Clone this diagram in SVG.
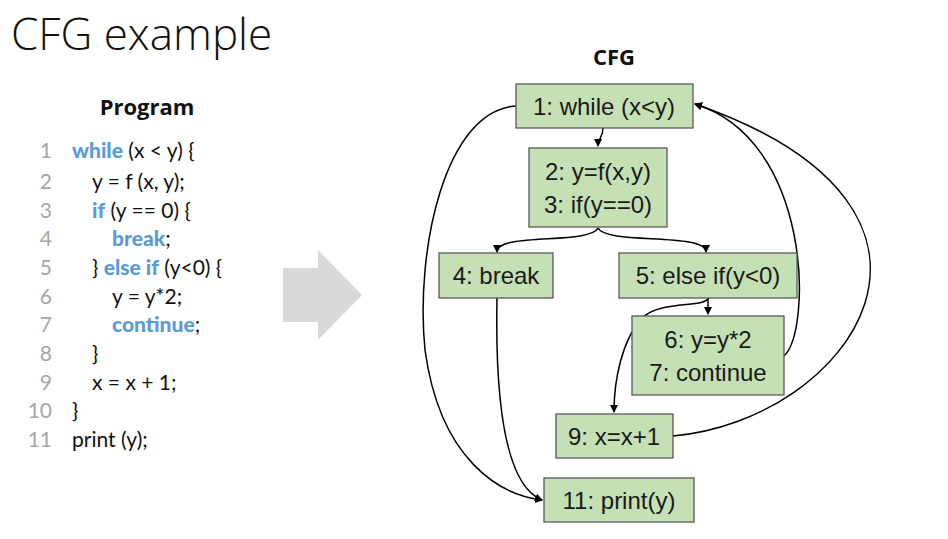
<svg xmlns="http://www.w3.org/2000/svg" width="948" height="539" viewBox="0 0 948 539">
<style>
.n rect{fill:#c5e0b4;stroke:#595959;stroke-width:1.3}
.n text{font-family:"Liberation Sans",Arial,sans-serif;font-size:24px;fill:#1a1a1a;text-anchor:middle}
.e path{fill:none;stroke:#000;stroke-width:1.5;marker-end:url(#a)}
.c{font-family:Lato,"Liberation Sans",sans-serif;font-size:21px;fill:#111}
.k{fill:#5b9bd5;font-weight:900}
.ln{font-family:Lato,"Liberation Sans",sans-serif;font-size:21px;fill:#a6a6a6;text-anchor:end}
</style>
<defs><marker id="a" markerWidth="8" markerHeight="8" refX="7" refY="4" orient="auto" markerUnits="userSpaceOnUse"><path d="M0,0 L8,4 L0,8 Z" fill="#000"/></marker></defs>
<rect width="948" height="539" fill="#fff"/>
<text x="11" y="50" font-family="'Open Sans','Liberation Sans',sans-serif" font-weight="300" font-size="44" fill="#111">CFG example</text>
<text x="147" y="115" text-anchor="middle" font-family="'Open Sans','Liberation Sans',sans-serif" font-weight="700" font-size="22" fill="#111">Program</text>
<text x="614" y="65" text-anchor="middle" font-family="'Open Sans','Liberation Sans',sans-serif" font-weight="700" font-size="22" fill="#111">CFG</text>
<g>
<text class="ln" x="52" y="158">1</text><text class="ln" x="52" y="189">2</text><text class="ln" x="52" y="218">3</text><text class="ln" x="52" y="246">4</text><text class="ln" x="52" y="275">5</text><text class="ln" x="52" y="304">6</text><text class="ln" x="52" y="332">7</text><text class="ln" x="52" y="361">8</text><text class="ln" x="52" y="390">9</text><text class="ln" x="52" y="418">10</text><text class="ln" x="52" y="447">11</text>
<text class="c" x="72" y="158"><tspan class="k">while</tspan> (x &lt; y) {</text>
<text class="c" x="92" y="189">y = f (x, y);</text>
<text class="c" x="92" y="218"><tspan class="k">if</tspan> (y == 0) {</text>
<text class="c" x="112" y="246"><tspan class="k">break</tspan>;</text>
<text class="c" x="92" y="275">} <tspan class="k">else if</tspan> (y&lt;0) {</text>
<text class="c" x="112" y="304">y = y*2;</text>
<text class="c" x="112" y="332"><tspan class="k">continue</tspan>;</text>
<text class="c" x="92" y="361">}</text>
<text class="c" x="92" y="390">x = x + 1;</text>
<text class="c" x="72" y="418">}</text>
<text class="c" x="72" y="447">print (y);</text>
</g>
<polygon points="283,268 318,268 318,250 362,295 318,340 318,322 283,322" fill="#d9d9d9"/>
<g class="e">
<path d="M603,128 C603,138 598,138 598,146"/>
<path d="M598,228 C590,245 497,232 497,252"/>
<path d="M598,228 C606,245 706,232 706,252"/>
<path d="M708,298 L708,314"/>
<path d="M708,298 C706,308 660,300 642,318 C622,340 614,380 614,412"/>
<path d="M497,298 C495,400 505,485 542,500"/>
<path d="M516,106 C445,110 415,250 425,350 C440,460 500,495 542,500"/>
<path d="M784,356 C812,330 812,140 695,104"/>
<path d="M673,436 C850,420 1000,210 695,104"/>
</g>
<g id="n1" class="n"><rect x="516" y="84" width="177" height="44"/><text x="604" y="115">1: while (x&lt;y)</text></g>
<g id="n2" class="n"><rect x="529" y="148" width="138" height="79"/><text x="598" y="180">2: y=f(x,y)</text><text x="598" y="213">3: if(y==0)</text></g>
<g id="n4" class="n"><rect x="439" y="253" width="114" height="45"/><text x="496" y="284">4: break</text></g>
<g id="n5" class="n"><rect x="619" y="253" width="178" height="45"/><text x="708" y="284">5: else if(y&lt;0)</text></g>
<g id="n6" class="n"><rect x="632" y="316" width="152" height="79"/><text x="708" y="348">6: y=y*2</text><text x="708" y="381">7: continue</text></g>
<g id="n9" class="n"><rect x="556" y="414" width="117" height="44"/><text x="614" y="445">9: x=x+1</text></g>
<g id="n11" class="n"><rect x="544" y="478" width="150" height="44"/><text x="619" y="509">11: print(y)</text></g>
</svg>
